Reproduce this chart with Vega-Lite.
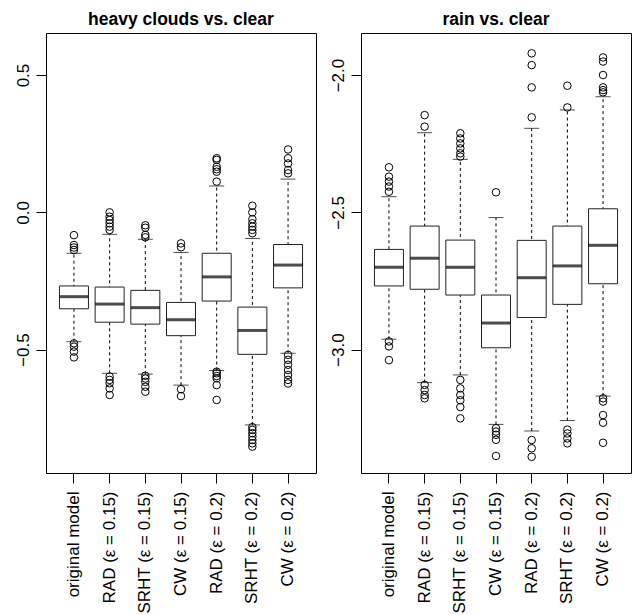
{
  "$schema": "https://vega.github.io/schema/vega-lite/v6.json",
  "background": "white",
  "padding": {"left": 13, "top": 10, "right": 3, "bottom": 0},
  "spacing": 11,
  "config": {
    "font": "Liberation Sans",
    "view": {"stroke": "black", "strokeWidth": 1},
    "axis": {
      "domain": false, "grid": false, "title": null,
      "labelFont": "Liberation Sans", "labelFontSize": 17, "labelColor": "black",
      "tickColor": "black", "tickSize": 10, "tickWidth": 1
    },
    "axisX": {"labelAngle": 270, "labelAlign": "right", "labelBaseline": "middle", "labelPadding": 8},
    "axisY": {"labelAngle": 270, "labelAlign": "center", "labelBaseline": "bottom", "labelPadding": 4, "format": ".1f"},
    "title": {"font": "Liberation Sans", "fontSize": 17.5, "fontWeight": "bold", "color": "black", "anchor": "middle", "frame": "group", "baseline": "alphabetic", "offset": 5}
  },
  "datasets": {
    "boxes": [
      {"panel": "hc", "method": "original model", "lo": -0.471, "q1": -0.351, "med": -0.307, "q3": -0.268, "hi": -0.149},
      {"panel": "hc", "method": "RAD (ε = 0.15)", "lo": -0.586, "q1": -0.400, "med": -0.334, "q3": -0.272, "hi": -0.080},
      {"panel": "hc", "method": "SRHT (ε = 0.15)", "lo": -0.589, "q1": -0.407, "med": -0.347, "q3": -0.284, "hi": -0.098},
      {"panel": "hc", "method": "CW (ε = 0.15)", "lo": -0.629, "q1": -0.449, "med": -0.391, "q3": -0.328, "hi": -0.146},
      {"panel": "hc", "method": "RAD (ε = 0.2)", "lo": -0.576, "q1": -0.323, "med": -0.235, "q3": -0.149, "hi": 0.096},
      {"panel": "hc", "method": "SRHT (ε = 0.2)", "lo": -0.774, "q1": -0.517, "med": -0.430, "q3": -0.345, "hi": -0.095},
      {"panel": "hc", "method": "CW (ε = 0.2)", "lo": -0.513, "q1": -0.275, "med": -0.192, "q3": -0.117, "hi": 0.121},
      {"panel": "rain", "method": "original model", "lo": -2.962, "q1": -2.768, "med": -2.700, "q3": -2.635, "hi": -2.443},
      {"panel": "rain", "method": "RAD (ε = 0.15)", "lo": -3.120, "q1": -2.780, "med": -2.667, "q3": -2.550, "hi": -2.210},
      {"panel": "rain", "method": "SRHT (ε = 0.15)", "lo": -3.092, "q1": -2.801, "med": -2.700, "q3": -2.601, "hi": -2.307},
      {"panel": "rain", "method": "CW (ε = 0.15)", "lo": -3.272, "q1": -2.993, "med": -2.903, "q3": -2.801, "hi": -2.519},
      {"panel": "rain", "method": "RAD (ε = 0.2)", "lo": -3.296, "q1": -2.883, "med": -2.738, "q3": -2.602, "hi": -2.194},
      {"panel": "rain", "method": "SRHT (ε = 0.2)", "lo": -3.258, "q1": -2.835, "med": -2.695, "q3": -2.550, "hi": -2.127},
      {"panel": "rain", "method": "CW (ε = 0.2)", "lo": -3.169, "q1": -2.760, "med": -2.620, "q3": -2.487, "hi": -2.079}
    ],
    "outliers": [
      {"panel": "hc", "method": "original model", "v": -0.083}, {"panel": "hc", "method": "original model", "v": -0.119}, {"panel": "hc", "method": "original model", "v": -0.128}, {"panel": "hc", "method": "original model", "v": -0.137}, {"panel": "hc", "method": "original model", "v": -0.477}, {"panel": "hc", "method": "original model", "v": -0.489}, {"panel": "hc", "method": "original model", "v": -0.507}, {"panel": "hc", "method": "original model", "v": -0.528},
      {"panel": "hc", "method": "RAD (ε = 0.15)", "v": 0.000}, {"panel": "hc", "method": "RAD (ε = 0.15)", "v": -0.016}, {"panel": "hc", "method": "RAD (ε = 0.15)", "v": -0.028}, {"panel": "hc", "method": "RAD (ε = 0.15)", "v": -0.040}, {"panel": "hc", "method": "RAD (ε = 0.15)", "v": -0.052}, {"panel": "hc", "method": "RAD (ε = 0.15)", "v": -0.064}, {"panel": "hc", "method": "RAD (ε = 0.15)", "v": -0.598}, {"panel": "hc", "method": "RAD (ε = 0.15)", "v": -0.610}, {"panel": "hc", "method": "RAD (ε = 0.15)", "v": -0.622}, {"panel": "hc", "method": "RAD (ε = 0.15)", "v": -0.641}, {"panel": "hc", "method": "RAD (ε = 0.15)", "v": -0.665},
      {"panel": "hc", "method": "SRHT (ε = 0.15)", "v": -0.047}, {"panel": "hc", "method": "SRHT (ε = 0.15)", "v": -0.056}, {"panel": "hc", "method": "SRHT (ε = 0.15)", "v": -0.082}, {"panel": "hc", "method": "SRHT (ε = 0.15)", "v": -0.091}, {"panel": "hc", "method": "SRHT (ε = 0.15)", "v": -0.595}, {"panel": "hc", "method": "SRHT (ε = 0.15)", "v": -0.605}, {"panel": "hc", "method": "SRHT (ε = 0.15)", "v": -0.617}, {"panel": "hc", "method": "SRHT (ε = 0.15)", "v": -0.635}, {"panel": "hc", "method": "SRHT (ε = 0.15)", "v": -0.653},
      {"panel": "hc", "method": "CW (ε = 0.15)", "v": -0.113}, {"panel": "hc", "method": "CW (ε = 0.15)", "v": -0.127}, {"panel": "hc", "method": "CW (ε = 0.15)", "v": -0.644}, {"panel": "hc", "method": "CW (ε = 0.15)", "v": -0.669},
      {"panel": "hc", "method": "RAD (ε = 0.2)", "v": 0.197}, {"panel": "hc", "method": "RAD (ε = 0.2)", "v": 0.191}, {"panel": "hc", "method": "RAD (ε = 0.2)", "v": 0.166}, {"panel": "hc", "method": "RAD (ε = 0.2)", "v": 0.157}, {"panel": "hc", "method": "RAD (ε = 0.2)", "v": 0.148}, {"panel": "hc", "method": "RAD (ε = 0.2)", "v": 0.112}, {"panel": "hc", "method": "RAD (ε = 0.2)", "v": -0.580}, {"panel": "hc", "method": "RAD (ε = 0.2)", "v": -0.586}, {"panel": "hc", "method": "RAD (ε = 0.2)", "v": -0.596}, {"panel": "hc", "method": "RAD (ε = 0.2)", "v": -0.604}, {"panel": "hc", "method": "RAD (ε = 0.2)", "v": -0.629}, {"panel": "hc", "method": "RAD (ε = 0.2)", "v": -0.683},
      {"panel": "hc", "method": "SRHT (ε = 0.2)", "v": 0.024}, {"panel": "hc", "method": "SRHT (ε = 0.2)", "v": 0.000}, {"panel": "hc", "method": "SRHT (ε = 0.2)", "v": -0.025}, {"panel": "hc", "method": "SRHT (ε = 0.2)", "v": -0.040}, {"panel": "hc", "method": "SRHT (ε = 0.2)", "v": -0.052}, {"panel": "hc", "method": "SRHT (ε = 0.2)", "v": -0.064}, {"panel": "hc", "method": "SRHT (ε = 0.2)", "v": -0.076}, {"panel": "hc", "method": "SRHT (ε = 0.2)", "v": -0.782}, {"panel": "hc", "method": "SRHT (ε = 0.2)", "v": -0.792}, {"panel": "hc", "method": "SRHT (ε = 0.2)", "v": -0.804}, {"panel": "hc", "method": "SRHT (ε = 0.2)", "v": -0.816}, {"panel": "hc", "method": "SRHT (ε = 0.2)", "v": -0.829}, {"panel": "hc", "method": "SRHT (ε = 0.2)", "v": -0.841}, {"panel": "hc", "method": "SRHT (ε = 0.2)", "v": -0.853},
      {"panel": "hc", "method": "CW (ε = 0.2)", "v": 0.229}, {"panel": "hc", "method": "CW (ε = 0.2)", "v": 0.197}, {"panel": "hc", "method": "CW (ε = 0.2)", "v": 0.178}, {"panel": "hc", "method": "CW (ε = 0.2)", "v": 0.154}, {"panel": "hc", "method": "CW (ε = 0.2)", "v": 0.142}, {"panel": "hc", "method": "CW (ε = 0.2)", "v": -0.519}, {"panel": "hc", "method": "CW (ε = 0.2)", "v": -0.537}, {"panel": "hc", "method": "CW (ε = 0.2)", "v": -0.555}, {"panel": "hc", "method": "CW (ε = 0.2)", "v": -0.574}, {"panel": "hc", "method": "CW (ε = 0.2)", "v": -0.592}, {"panel": "hc", "method": "CW (ε = 0.2)", "v": -0.610}, {"panel": "hc", "method": "CW (ε = 0.2)", "v": -0.623},
      {"panel": "rain", "method": "original model", "v": -2.336}, {"panel": "rain", "method": "original model", "v": -2.370}, {"panel": "rain", "method": "original model", "v": -2.388}, {"panel": "rain", "method": "original model", "v": -2.406}, {"panel": "rain", "method": "original model", "v": -2.425}, {"panel": "rain", "method": "original model", "v": -2.970}, {"panel": "rain", "method": "original model", "v": -2.988}, {"panel": "rain", "method": "original model", "v": -3.038},
      {"panel": "rain", "method": "RAD (ε = 0.15)", "v": -2.146}, {"panel": "rain", "method": "RAD (ε = 0.15)", "v": -2.188}, {"panel": "rain", "method": "RAD (ε = 0.15)", "v": -3.128}, {"panel": "rain", "method": "RAD (ε = 0.15)", "v": -3.147}, {"panel": "rain", "method": "RAD (ε = 0.15)", "v": -3.165}, {"panel": "rain", "method": "RAD (ε = 0.15)", "v": -3.177},
      {"panel": "rain", "method": "SRHT (ε = 0.15)", "v": -2.212}, {"panel": "rain", "method": "SRHT (ε = 0.15)", "v": -2.231}, {"panel": "rain", "method": "SRHT (ε = 0.15)", "v": -2.249}, {"panel": "rain", "method": "SRHT (ε = 0.15)", "v": -2.267}, {"panel": "rain", "method": "SRHT (ε = 0.15)", "v": -2.285}, {"panel": "rain", "method": "SRHT (ε = 0.15)", "v": -2.297}, {"panel": "rain", "method": "SRHT (ε = 0.15)", "v": -3.110}, {"panel": "rain", "method": "SRHT (ε = 0.15)", "v": -3.141}, {"panel": "rain", "method": "SRHT (ε = 0.15)", "v": -3.165}, {"panel": "rain", "method": "SRHT (ε = 0.15)", "v": -3.184}, {"panel": "rain", "method": "SRHT (ε = 0.15)", "v": -3.209}, {"panel": "rain", "method": "SRHT (ε = 0.15)", "v": -3.250},
      {"panel": "rain", "method": "CW (ε = 0.15)", "v": -2.427}, {"panel": "rain", "method": "CW (ε = 0.15)", "v": -3.286}, {"panel": "rain", "method": "CW (ε = 0.15)", "v": -3.298}, {"panel": "rain", "method": "CW (ε = 0.15)", "v": -3.310}, {"panel": "rain", "method": "CW (ε = 0.15)", "v": -3.328}, {"panel": "rain", "method": "CW (ε = 0.15)", "v": -3.387},
      {"panel": "rain", "method": "RAD (ε = 0.2)", "v": -1.921}, {"panel": "rain", "method": "RAD (ε = 0.2)", "v": -1.964}, {"panel": "rain", "method": "RAD (ε = 0.2)", "v": -2.045}, {"panel": "rain", "method": "RAD (ε = 0.2)", "v": -2.154}, {"panel": "rain", "method": "RAD (ε = 0.2)", "v": -3.329}, {"panel": "rain", "method": "RAD (ε = 0.2)", "v": -3.359}, {"panel": "rain", "method": "RAD (ε = 0.2)", "v": -3.390},
      {"panel": "rain", "method": "SRHT (ε = 0.2)", "v": -2.039}, {"panel": "rain", "method": "SRHT (ε = 0.2)", "v": -2.118}, {"panel": "rain", "method": "SRHT (ε = 0.2)", "v": -3.291}, {"panel": "rain", "method": "SRHT (ε = 0.2)", "v": -3.305}, {"panel": "rain", "method": "SRHT (ε = 0.2)", "v": -3.323}, {"panel": "rain", "method": "SRHT (ε = 0.2)", "v": -3.341},
      {"panel": "rain", "method": "CW (ε = 0.2)", "v": -1.936}, {"panel": "rain", "method": "CW (ε = 0.2)", "v": -1.951}, {"panel": "rain", "method": "CW (ε = 0.2)", "v": -2.000}, {"panel": "rain", "method": "CW (ε = 0.2)", "v": -2.045}, {"panel": "rain", "method": "CW (ε = 0.2)", "v": -2.055}, {"panel": "rain", "method": "CW (ε = 0.2)", "v": -2.063}, {"panel": "rain", "method": "CW (ε = 0.2)", "v": -3.177}, {"panel": "rain", "method": "CW (ε = 0.2)", "v": -3.189}, {"panel": "rain", "method": "CW (ε = 0.2)", "v": -3.238}, {"panel": "rain", "method": "CW (ε = 0.2)", "v": -3.266}, {"panel": "rain", "method": "CW (ε = 0.2)", "v": -3.339}
    ]
  },
  "hconcat": [
    {
      "title": {"text": "heavy clouds vs. clear"},
      "width": 270, "height": 440,
      "encoding": {
        "x": {"field": "method", "type": "nominal", "scale": {"domain": ["original model", "RAD (ε = 0.15)", "SRHT (ε = 0.15)", "CW (ε = 0.15)", "RAD (ε = 0.2)", "SRHT (ε = 0.2)", "CW (ε = 0.2)"], "paddingInner": 0.1875, "paddingOuter": 0.377}, "axis": {"orient": "bottom"}}
      },
      "layer": [
        {"data": {"name": "boxes"}, "transform": [{"filter": "datum.panel === 'hc'"}], "mark": {"type": "rule", "color": "black", "strokeWidth": 1, "strokeDash": [3, 3]},
         "encoding": {"y": {"field": "lo", "type": "quantitative", "scale": {"domain": [-0.949, 0.653], "nice": false, "zero": false}, "axis": {"values": [-0.5, 0, 0.5]}}, "y2": {"field": "hi"}}},
        {"data": {"name": "boxes"}, "transform": [{"filter": "datum.panel === 'hc'"}], "mark": {"type": "tick", "color": "black", "size": 15, "thickness": 1, "orient": "horizontal"},
         "encoding": {"y": {"field": "lo", "type": "quantitative"}}},
        {"data": {"name": "boxes"}, "transform": [{"filter": "datum.panel === 'hc'"}], "mark": {"type": "tick", "color": "black", "size": 15, "thickness": 1, "orient": "horizontal"},
         "encoding": {"y": {"field": "hi", "type": "quantitative"}}},
        {"data": {"name": "boxes"}, "transform": [{"filter": "datum.panel === 'hc'"}], "mark": {"type": "bar", "fill": "white", "stroke": "#222222", "strokeWidth": 1},
         "encoding": {"y": {"field": "q1", "type": "quantitative"}, "y2": {"field": "q3"}}},
        {"data": {"name": "boxes"}, "transform": [{"filter": "datum.panel === 'hc'"}], "mark": {"type": "tick", "color": "black", "size": 29, "thickness": 3, "orient": "horizontal"},
         "encoding": {"y": {"field": "med", "type": "quantitative"}}},
        {"data": {"name": "outliers"}, "transform": [{"filter": "datum.panel === 'hc'"}], "mark": {"type": "point", "shape": "circle", "filled": false, "stroke": "black", "strokeWidth": 1, "size": 57, "opacity": 1},
         "encoding": {"y": {"field": "v", "type": "quantitative"}}}
      ]
    },
    {
      "title": {"text": "rain vs. clear"},
      "width": 270, "height": 440,
      "encoding": {
        "x": {"field": "method", "type": "nominal", "scale": {"domain": ["original model", "RAD (ε = 0.15)", "SRHT (ε = 0.15)", "CW (ε = 0.15)", "RAD (ε = 0.2)", "SRHT (ε = 0.2)", "CW (ε = 0.2)"], "paddingInner": 0.1875, "paddingOuter": 0.377}, "axis": {"orient": "bottom"}}
      },
      "layer": [
        {"data": {"name": "boxes"}, "transform": [{"filter": "datum.panel === 'rain'"}], "mark": {"type": "rule", "color": "black", "strokeWidth": 1, "strokeDash": [3, 3]},
         "encoding": {"y": {"field": "lo", "type": "quantitative", "scale": {"domain": [-3.449, -1.847], "nice": false, "zero": false}, "axis": {"values": [-3.0, -2.5, -2.0]}}, "y2": {"field": "hi"}}},
        {"data": {"name": "boxes"}, "transform": [{"filter": "datum.panel === 'rain'"}], "mark": {"type": "tick", "color": "black", "size": 15, "thickness": 1, "orient": "horizontal"},
         "encoding": {"y": {"field": "lo", "type": "quantitative"}}},
        {"data": {"name": "boxes"}, "transform": [{"filter": "datum.panel === 'rain'"}], "mark": {"type": "tick", "color": "black", "size": 15, "thickness": 1, "orient": "horizontal"},
         "encoding": {"y": {"field": "hi", "type": "quantitative"}}},
        {"data": {"name": "boxes"}, "transform": [{"filter": "datum.panel === 'rain'"}], "mark": {"type": "bar", "fill": "white", "stroke": "#222222", "strokeWidth": 1},
         "encoding": {"y": {"field": "q1", "type": "quantitative"}, "y2": {"field": "q3"}}},
        {"data": {"name": "boxes"}, "transform": [{"filter": "datum.panel === 'rain'"}], "mark": {"type": "tick", "color": "black", "size": 29, "thickness": 3, "orient": "horizontal"},
         "encoding": {"y": {"field": "med", "type": "quantitative"}}},
        {"data": {"name": "outliers"}, "transform": [{"filter": "datum.panel === 'rain'"}], "mark": {"type": "point", "shape": "circle", "filled": false, "stroke": "black", "strokeWidth": 1, "size": 57, "opacity": 1},
         "encoding": {"y": {"field": "v", "type": "quantitative"}}}
      ]
    }
  ]
}
